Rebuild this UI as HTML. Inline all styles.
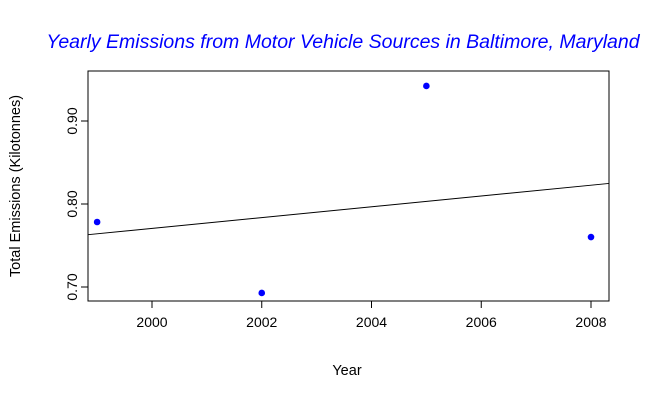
<!DOCTYPE html>
<html><head><meta charset="utf-8"><style>
html,body{margin:0;padding:0;background:#fff;}
svg{display:block;font-family:"Liberation Sans",Arial,sans-serif;}
</style></head><body>
<svg id="chart" width="651" height="400">
<text x="343" y="48" text-anchor="middle" fill="#0000ff" font-size="19.5" font-style="italic">Yearly Emissions from Motor Vehicle Sources in Baltimore, Maryland</text>
<text x="347" y="375" text-anchor="middle" font-size="14.5" fill="#000">Year</text>
<text transform="translate(20,186) rotate(-90)" text-anchor="middle" font-size="14.5" fill="#000">Total Emissions (Kilotonnes)</text>
<rect x="88" y="71" width="521" height="230" fill="none" stroke="#000" stroke-width="1"/>
<g id="g"></g>
</svg>
<script>
const years=[1999,2002,2005,2008];
const emissions=[0.7783,0.6928,0.9422,0.7602];
const xTicks=[2000,2002,2004,2006,2008];
const yTicks=[0.70,0.80,0.90];
const yTickLabels=["0.70","0.80","0.90"];
const L=88,R=609,T=71,B=301;
const xs=v=>152+(v-2000)*54.875;
const ys=v=>287-(v-0.70)*830;
const inv=p=>2000+(p-152)/54.875;
const g=document.getElementById('g');
const NS='http://www.w3.org/2000/svg';
function mk(t,a){const e=document.createElementNS(NS,t);for(const k in a)e.setAttribute(k,a[k]);g.appendChild(e);return e;}
xTicks.forEach(v=>{
 const l=mk('line',{x1:xs(v),x2:xs(v),y1:B,y2:B+7,stroke:'#000'});
 
 
 const t=mk('text',{x:xs(v),y:B+26,'text-anchor':'middle','font-size':14});
 t.textContent=v;
 
 
});
const xa=mk('line',{x1:xs(xTicks[0]),x2:xs(xTicks[xTicks.length-1]),y1:B,y2:B,stroke:'#000'});


yTicks.forEach((v,i)=>{
 const l=mk('line',{x1:L-7,x2:L,y1:ys(v),y2:ys(v),stroke:'#000'});
 
 
 const t=mk('text',{transform:`translate(${L-11},${ys(v)}) rotate(-90)`,'text-anchor':'middle','font-size':14});
 t.textContent=yTickLabels[i];
 
 
});
const n=years.length,mx=years.reduce((a,b)=>a+b)/n,my=emissions.reduce((a,b)=>a+b)/n;
let sxy=0,sxx=0;years.forEach((x,i)=>{sxy+=(x-mx)*(emissions[i]-my);sxx+=(x-mx)**2;});
const b=sxy/sxx,a=my-b*mx;
const rl=mk('line',{x1:L,x2:R,y1:ys(a+b*inv(L)),y2:ys(a+b*inv(R)),stroke:'#000','stroke-width':1});


years.forEach((y,i)=>{
 const c=mk('circle',{cx:xs(y),cy:ys(emissions[i]),r:3.3,fill:'#0000ff'});
 
 
});
</script>
</body></html>
